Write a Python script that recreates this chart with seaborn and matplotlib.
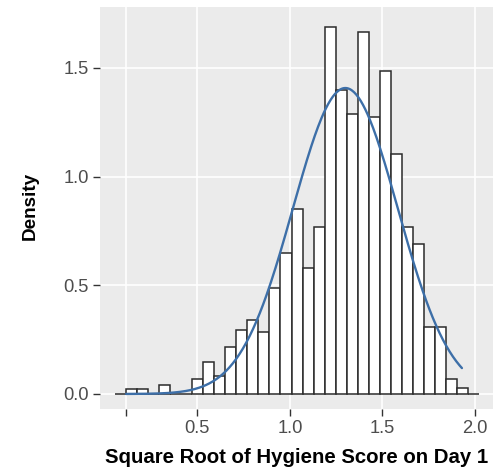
import numpy as np
import pandas as pd
import matplotlib
matplotlib.use("Agg")
import matplotlib.pyplot as plt
import seaborn as sns

# Square root of hygiene score on day 1: density in each histogram bin
# (one empty padding bin at each end, as ggplot draws them)
bin_start = 0.0554
bin_width = 0.0596
densities = [0.0,
             0.021, 0.021, 0.0, 0.041, 0.0, 0.0, 0.068, 0.149, 0.083, 0.216,
             0.294, 0.340, 0.287, 0.486, 0.647, 0.850, 0.581, 0.767, 1.690, 1.400,
             1.287, 1.667, 1.273, 1.486, 1.103, 0.770, 0.689, 0.310, 0.310, 0.068,
             0.026,
             0.0]

# Fitted normal curve
norm_mean = 1.30
norm_sd = 0.2835
curve_lo, curve_hi = 0.115, 1.93

x_ticks = [0.115, 0.5, 1.0, 1.5, 2.0]
x_tick_labels = ["", "0.5", "1.0", "1.5", "2.0"]
y_ticks = [0.0, 0.5, 1.0, 1.5]
y_tick_labels = ["0.0", "0.5", "1.0", "1.5"]

sns.set_theme(style="darkgrid")
plt.rcParams["font.family"] = ["Liberation Sans", "DejaVu Sans"]

fig = plt.figure(figsize=(4.99, 4.72), dpi=100)
ax = fig.add_axes([0.2004, 0.1335, 0.7876, 0.8517])
ax.set_facecolor("#EBEBEB")

n_bins = len(densities)
edges = [bin_start + i * bin_width for i in range(n_bins + 1)]
centers = [(edges[i] + edges[i + 1]) / 2 for i in range(n_bins)]
hist_df = pd.DataFrame({"value": centers, "density": densities})

sns.histplot(data=hist_df, x="value", weights="density", bins=edges,
             stat="count", color="white", edgecolor="#2b2b2b", linewidth=1.1,
             alpha=1.0, ax=ax)

xc = np.linspace(curve_lo, curve_hi, 300)
yc = np.exp(-0.5 * ((xc - norm_mean) / norm_sd) ** 2) / (norm_sd * np.sqrt(2 * np.pi))
curve_df = pd.DataFrame({"x": xc, "y": yc})
sns.lineplot(data=curve_df, x="x", y="y", color="#3d6fa8", linewidth=1.7, ax=ax)

ax.set_xlim(-0.026, 2.098)
ax.set_ylim(-0.069, 1.780)
ax.set_xticks(x_ticks)
ax.set_xticklabels(x_tick_labels)
ax.set_yticks(y_ticks)
ax.set_yticklabels(y_tick_labels)

ax.grid(True, color="white", linewidth=1.2)
ax.set_axisbelow(True)
for s in ax.spines.values():
    s.set_visible(False)

ax.tick_params(axis="both", which="major", length=5, width=1.0,
               color="#333333", labelcolor="#4D4D4D", labelsize=13.2, pad=3)
ax.tick_params(axis="x", bottom=True)
ax.tick_params(axis="y", left=True)

ax.set_xlabel("Square Root of Hygiene Score on Day 1", fontsize=14.7,
              fontweight="bold", color="black")
ax.set_ylabel("Density", fontsize=13.6, fontweight="bold", color="black")
ax.xaxis.set_label_coords(0.5, -0.1206)
ax.xaxis.label.set_va("center")
ax.yaxis.set_label_coords(-0.178, 0.505)
ax.yaxis.label.set_va("center")

fig.savefig("out.png", dpi=100)
